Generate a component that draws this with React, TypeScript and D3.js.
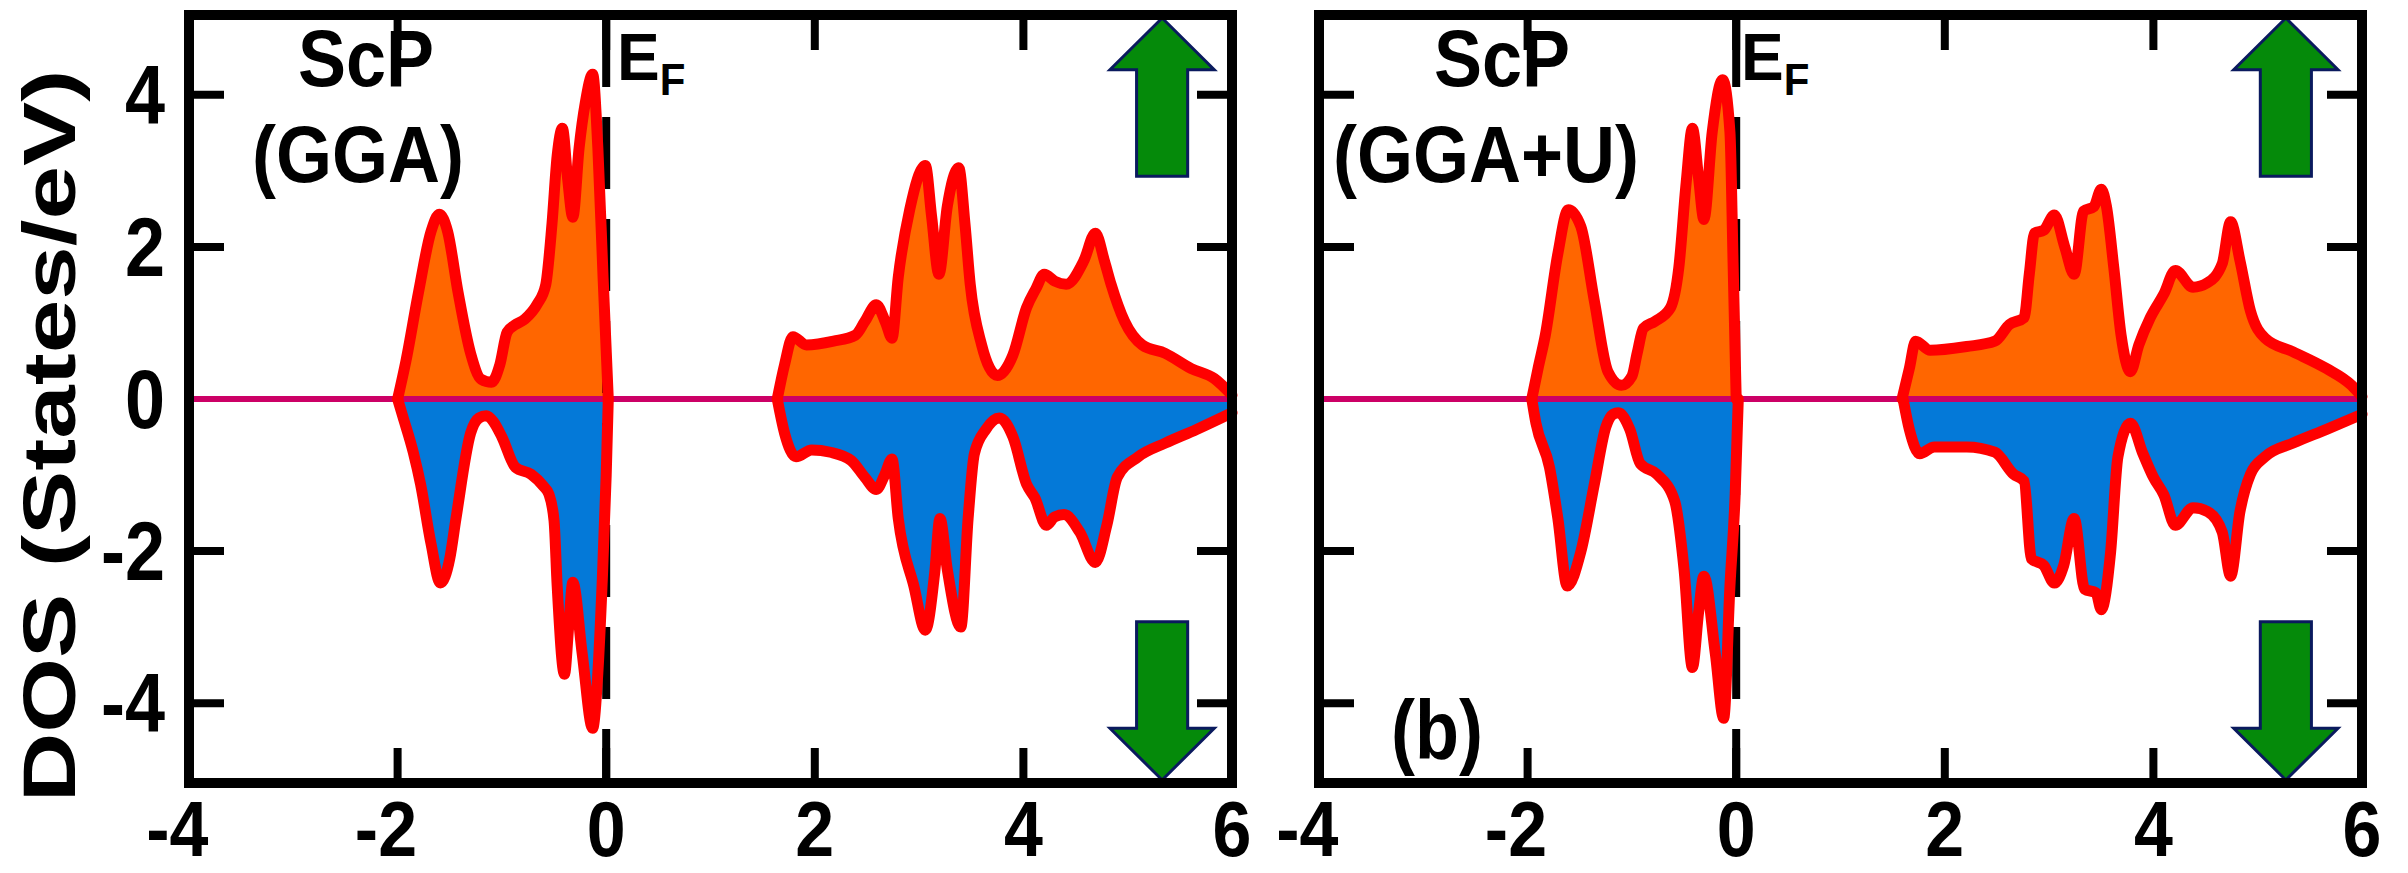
import React from "react";
import * as d3 from "d3";

const width = 2408;
const height = 873;
const frame = { top: 15, bottom: 783 };
const font = "'Liberation Sans', Arial, Helvetica, sans-serif";

const xTicks = [-4, -2, 0, 2, 4, 6];
const yTicks = [-4, -2, 0, 2, 4];

// ScP (GGA), spin up / spin down, [energy eV, DOS]
const ggaUpValence = [
  [-2.0, 0], [-1.92, 0.5], [-1.8, 1.4], [-1.68, 2.2], [-1.6, 2.43], [-1.52, 2.2],
  [-1.42, 1.4], [-1.3, 0.6], [-1.2, 0.26], [-1.1, 0.22], [-1.02, 0.45], [-0.95, 0.88],
  [-0.88, 0.97], [-0.78, 1.05], [-0.66, 1.25], [-0.58, 1.5], [-0.52, 2.3], [-0.47, 3.2],
  [-0.42, 3.56], [-0.37, 2.9], [-0.32, 2.39], [-0.26, 3.3], [-0.2, 3.9], [-0.13, 4.27],
  [-0.08, 3.3], [-0.03, 1.6], [0.02, 0],
];
const ggaUpConduction = [
  [1.64, 0], [1.71, 0.45], [1.79, 0.82], [1.92, 0.71], [2.18, 0.76], [2.39, 0.84],
  [2.48, 1.02], [2.59, 1.24], [2.68, 1.0], [2.74, 0.8], [2.8, 1.6], [2.91, 2.49],
  [3.06, 3.07], [3.12, 2.4], [3.19, 1.64], [3.27, 2.53], [3.38, 3.04], [3.44, 2.3],
  [3.49, 1.51], [3.6, 0.71], [3.75, 0.31], [3.9, 0.58], [4.03, 1.2], [4.12, 1.45],
  [4.2, 1.64], [4.3, 1.55], [4.41, 1.51], [4.58, 1.82], [4.69, 2.18], [4.78, 1.8],
  [4.84, 1.51], [4.97, 1.02], [5.14, 0.71], [5.36, 0.6], [5.61, 0.4], [5.83, 0.27],
  [6.0, 0.05],
];
const ggaDownValence = [
  [-2.0, 0], [-1.95, -0.23], [-1.85, -0.7], [-1.78, -1.12], [-1.68, -1.9], [-1.59, -2.42],
  [-1.5, -2.1], [-1.44, -1.57], [-1.3, -0.45], [-1.22, -0.25], [-1.15, -0.22], [-1.08, -0.3],
  [-1.0, -0.5], [-0.87, -0.9], [-0.72, -0.99], [-0.6, -1.15], [-0.55, -1.25], [-0.5, -1.6],
  [-0.47, -2.46], [-0.4, -3.62], [-0.36, -3.0], [-0.32, -2.41], [-0.23, -3.35], [-0.13, -4.33],
  [-0.08, -3.6], [-0.04, -2.46], [0.0, -1.0], [0.02, 0],
];
const ggaDownConduction = [
  [1.64, 0], [1.71, -0.45], [1.82, -0.76], [1.97, -0.67], [2.15, -0.7], [2.35, -0.81],
  [2.48, -1.03], [2.59, -1.19], [2.67, -1.0], [2.74, -0.79], [2.8, -1.57], [2.95, -2.46],
  [3.06, -3.04], [3.15, -2.28], [3.2, -1.57], [3.27, -2.24], [3.4, -3.0], [3.47, -1.57],
  [3.53, -0.72], [3.64, -0.4], [3.77, -0.25], [3.9, -0.5], [4.03, -1.12], [4.11, -1.3],
  [4.22, -1.66], [4.3, -1.55], [4.39, -1.52], [4.54, -1.75], [4.69, -2.15], [4.8, -1.66],
  [4.9, -1.03], [5.1, -0.76], [5.36, -0.58], [5.66, -0.4], [6.0, -0.18],
];

// ScP (GGA+U)
const ggauUpValence = [
  [-1.96, 0], [-1.9, 0.4], [-1.83, 0.84], [-1.71, 1.91], [-1.61, 2.49], [-1.49, 2.27],
  [-1.36, 1.29], [-1.23, 0.36], [-1.1, 0.18], [-1.0, 0.3], [-0.95, 0.6], [-0.89, 0.93],
  [-0.78, 1.02], [-0.63, 1.2], [-0.55, 1.73], [-0.48, 2.84], [-0.42, 3.56], [-0.36, 2.9],
  [-0.31, 2.36], [-0.23, 3.51], [-0.13, 4.2], [-0.06, 3.51], [-0.03, 1.8], [0.0, 0],
];
const ggauUpConduction = [
  [1.59, 0], [1.66, 0.4], [1.72, 0.76], [1.86, 0.64], [2.21, 0.69], [2.48, 0.76],
  [2.62, 0.98], [2.76, 1.07], [2.81, 1.64], [2.86, 2.18], [2.95, 2.22], [3.05, 2.42],
  [3.15, 2.0], [3.24, 1.64], [3.33, 2.47], [3.43, 2.53], [3.5, 2.76], [3.55, 2.53],
  [3.62, 1.73], [3.69, 0.84], [3.78, 0.36], [3.86, 0.71], [3.97, 1.07], [4.1, 1.38],
  [4.21, 1.69], [4.38, 1.47], [4.52, 1.53], [4.66, 1.78], [4.74, 2.33], [4.83, 1.82],
  [4.93, 1.16], [5.07, 0.8], [5.34, 0.62], [5.66, 0.4], [5.9, 0.18], [6.0, 0.03],
];
const ggauDownValence = [
  [-1.96, 0], [-1.92, -0.32], [-1.79, -0.9], [-1.71, -1.57], [-1.62, -2.46], [-1.49, -2.01],
  [-1.36, -1.12], [-1.25, -0.37], [-1.18, -0.2], [-1.13, -0.18], [-1.02, -0.4], [-0.92, -0.85],
  [-0.76, -0.99], [-0.59, -1.34], [-0.5, -2.24], [-0.42, -3.53], [-0.36, -2.8], [-0.31, -2.33],
  [-0.2, -3.35], [-0.12, -4.2], [-0.06, -2.46], [-0.01, -1.26], [0.02, 0],
];
const ggauDownConduction = [
  [1.6, 0], [1.66, -0.4], [1.76, -0.72], [1.9, -0.63], [2.21, -0.63], [2.48, -0.7],
  [2.66, -0.99], [2.76, -1.08], [2.83, -2.1], [2.95, -2.19], [3.05, -2.42], [3.14, -2.19],
  [3.24, -1.57], [3.34, -2.5], [3.45, -2.55], [3.5, -2.77], [3.59, -2.01], [3.66, -0.76],
  [3.78, -0.32], [3.9, -0.72], [4.0, -1.03], [4.1, -1.26], [4.21, -1.66], [4.38, -1.43],
  [4.52, -1.48], [4.66, -1.75], [4.74, -2.33], [4.83, -1.48], [4.93, -0.99], [5.07, -0.76],
  [5.34, -0.58], [5.66, -0.4], [6.0, -0.2],
];

// text stretched a bit vertically, like the source figure
function SText({ x, y, size, sy = 1.12, anchor = "start", children }) {
  return (
    <text transform={`translate(${x},${y}) scale(1,${sy})`} textAnchor={anchor}
      fontSize={size} fontWeight="bold" fontFamily={font}>
      {children}
    </text>
  );
}

function Arrow({ x, y, cx, up }) {
  const s = up ? 1 : -1;
  const tip = 5.01 * s, base = 4.33 * s, tail = 2.93 * s;
  const hw = 0.5, sw = 0.245;
  const pts = [
    [cx, tip], [cx + hw, base], [cx + sw, base], [cx + sw, tail],
    [cx - sw, tail], [cx - sw, base], [cx - hw, base],
  ].map(p => `${x(p[0])},${y(p[1])}`).join(" ");
  return <polygon points={pts} fill="#058a0a" stroke="#0a1a5e" strokeWidth={3} />;
}

function Panel({ left, right, up, down, arrowX, showYLabels, titleX, methodX, method, efX, tag }) {
  const x = d3.scaleLinear().domain([-4, 6]).range([left, right]);
  const y = d3.scaleLinear().domain([-5.05, 5.05]).range([frame.bottom, frame.top]);

  const area = d3.area().x(d => x(d[0])).y0(y(0)).y1(d => y(d[1])).curve(d3.curveMonotoneX);
  const line = d3.line().x(d => x(d[0])).y(d => y(d[1])).curve(d3.curveMonotoneX);

  const tickLen = 35;
  const digitW = 0.556 * 70;

  return (
    <g>
      {up.map((b, i) => <path key={"fu" + i} d={area(b)} fill="#ff6600" />)}
      {down.map((b, i) => <path key={"fd" + i} d={area(b)} fill="#0479d8" />)}

      {xTicks.map(t => (
        <g key={"xt" + t}>
          <line x1={x(t)} x2={x(t)} y1={frame.bottom} y2={frame.bottom - tickLen} stroke="#000" strokeWidth={8} />
          <line x1={x(t)} x2={x(t)} y1={frame.top} y2={frame.top + tickLen} stroke="#000" strokeWidth={8} />
        </g>
      ))}
      {yTicks.filter(t => t !== 0).map(t => (
        <g key={"yt" + t}>
          <line x1={left} x2={left + tickLen} y1={y(t)} y2={y(t)} stroke="#000" strokeWidth={8} />
          <line x1={right} x2={right - tickLen} y1={y(t)} y2={y(t)} stroke="#000" strokeWidth={8} />
        </g>
      ))}

      <line x1={left} x2={right} y1={y(0)} y2={y(0)} stroke="#cc0066" strokeWidth={6} />
      <line x1={x(0)} x2={x(0)} y1={frame.top} y2={frame.bottom} stroke="#000" strokeWidth={8} strokeDasharray="72 30" />

      {up.map((b, i) => <path key={"lu" + i} d={line(b)} fill="none" stroke="#ff0000" strokeWidth={11} strokeLinejoin="round" strokeLinecap="round" />)}
      {down.map((b, i) => <path key={"ld" + i} d={line(b)} fill="none" stroke="#ff0000" strokeWidth={11} strokeLinejoin="round" strokeLinecap="round" />)}

      <Arrow x={x} y={y} cx={arrowX} up={true} />
      <Arrow x={x} y={y} cx={arrowX} up={false} />

      <rect x={left} y={frame.top} width={right - left} height={frame.bottom - frame.top} fill="none" stroke="#000" strokeWidth={10} />

      {xTicks.map(t => (
        <SText key={"xl" + t} x={t < 0 ? x(t) + digitW / 2 : x(t)} y={856} size={70}
          anchor={t < 0 ? "end" : "middle"}>
          {t}
        </SText>
      ))}
      {showYLabels && yTicks.map(t => (
        <SText key={"yl" + t} x={165} y={y(t) + 29} size={72} sy={1.15} anchor="end">
          {t}
        </SText>
      ))}

      <SText x={titleX} y={86} size={72} sy={1.1} anchor="middle">ScP</SText>
      <SText x={methodX} y={182} size={72} sy={1.1} anchor="middle">{method}</SText>
      <SText x={efX} y={80} size={64} sy={1.05}>
        E<tspan fontSize={42} dy={14}>F</tspan>
      </SText>
      {tag && <SText x={tag.x} y={759} size={72} sy={1.15} anchor="middle">{tag.text}</SText>}
    </g>
  );
}

export default function App() {
  return (
    <svg width={width} height={height} style={{ position: "absolute", left: 0, top: 0, display: "block", background: "#fff" }}>
      <rect width={width} height={height} fill="#fff" />
      <text transform="translate(75, 436) rotate(-90) scale(1.3, 1)" textAnchor="middle" fontSize={74}
        fontWeight="bold" fontFamily={font}>
        DOS (States/eV)
      </text>
      <Panel left={189} right={1232}
        up={[ggaUpValence, ggaUpConduction]} down={[ggaDownValence, ggaDownConduction]}
        arrowX={5.33} showYLabels={true}
        titleX={366} methodX={358} method="(GGA)" efX={617} tag={null} />
      <Panel left={1319} right={2362}
        up={[ggauUpValence, ggauUpConduction]} down={[ggauDownValence, ggauDownConduction]}
        arrowX={5.27} showYLabels={false}
        titleX={1502} methodX={1486} method="(GGA+U)" efX={1741}
        tag={{ x: 1437, text: "(b)" }} />
    </svg>
  );
}
